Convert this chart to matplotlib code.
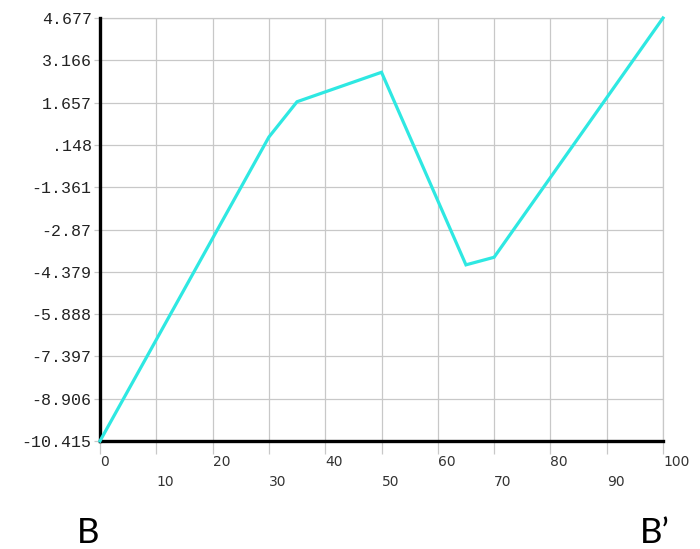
import matplotlib
matplotlib.use("Agg")
import matplotlib.pyplot as plt

# profile B - B'
dist = [0, 30, 35, 50, 65, 70, 100]
value = [-10.415, 0.43, 1.69, 2.74, -4.13, -3.86, 4.677]

yticks = [4.677, 3.166, 1.657, 0.148, -1.361, -2.87, -4.379, -5.888, -7.397, -8.906, -10.415]
ylabels = ["4.677", "3.166", "1.657", ".148", "-1.361", "-2.87", "-4.379", "-5.888", "-7.397", "-8.906", "-10.415"]
xticks = list(range(0, 101, 10))

fig = plt.figure(figsize=(7, 5.49), dpi=100)
ax = fig.add_axes([100/700, 1-441/549, 563/700, 423/549])

ax.plot(dist, value, color="#2ee8e2", lw=2.3, solid_joinstyle="miter", zorder=3, clip_on=False)

ax.set_xlim(0, 100)
ax.set_ylim(-10.415, 4.677)

ax.set_yticks(yticks)
ax.set_yticklabels(ylabels, family="Liberation Mono", fontsize=12, color="#222222")
ax.set_xticks(xticks)
ax.set_xticklabels([])

ax.grid(True, color="#c8c8c8", lw=0.9)
ax.set_axisbelow(True)

for s in ["top", "right"]:
    ax.spines[s].set_visible(False)
for s in ["left", "bottom"]:
    ax.spines[s].set_linewidth(2.4)
    ax.spines[s].set_color("black")

ax.tick_params(axis="x", length=9, width=0.9, color="#c8c8c8", direction="out")
ax.tick_params(axis="y", length=4, width=0.9, color="#c8c8c8", direction="out", pad=2)

# right and top border lines as grid
ax.axvline(100, color="#c8c8c8", lw=0.9, zorder=0, clip_on=False)
ax.axhline(4.677, color="#c8c8c8", lw=0.9, zorder=0, clip_on=False)

# x labels staggered in two rows
for i, x in enumerate(xticks):
    off = -0.049 if i % 2 == 0 else -0.096
    ax.text(x, off, str(x), transform=ax.get_xaxis_transform(), ha="left", va="center",
            fontsize=10, color="#333333", family="DejaVu Sans")

fig.text(88/700, 1-533/549, "B", fontsize=25, family="Lato", ha="center", va="center")
fig.text(655/700, 1-533/549, "B\u2019", fontsize=25, family="Lato", ha="center", va="center")

fig.savefig("out.png", dpi=100)
